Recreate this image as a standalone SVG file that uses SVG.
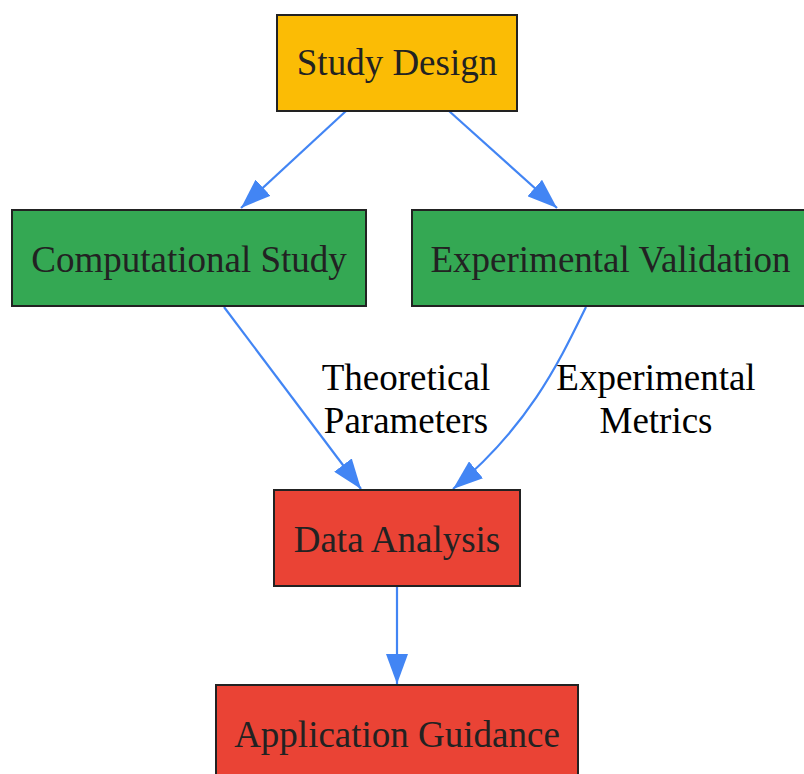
<svg xmlns="http://www.w3.org/2000/svg" width="804" height="774" viewBox="0 0 804 774">
<style>
.node rect{stroke:#222;stroke-width:2}
.node text{font-family:"Liberation Serif","Times New Roman",serif;font-size:37px;fill:#222;text-anchor:middle}
.edge{fill:none;stroke:#4285F4;stroke-width:2.2}
.lbl{font-family:"Liberation Serif","Times New Roman",serif;font-size:37px;fill:#000;text-anchor:middle}
</style>
<defs>
<marker id="arr" markerUnits="userSpaceOnUse" markerWidth="30" markerHeight="22" refX="30" refY="11" orient="auto">
<path d="M0,0 L30,11 L0,22 z" fill="#4285F4"/>
</marker>
</defs>
<rect width="804" height="774" fill="#fff"/>
<g id="connectors">
<path class="edge" d="M346,111 L241,208" marker-end="url(#arr)"/>
<path class="edge" d="M449,111 L557,208" marker-end="url(#arr)"/>
<path class="edge" d="M224,307 L361,489" marker-end="url(#arr)"/>
<path class="edge" d="M586,307 C560,360 530,425 453,489" marker-end="url(#arr)"/>
<path class="edge" d="M397,587 L397,684" marker-end="url(#arr)"/>
<text class="lbl" x="406" y="390">Theoretical</text>
<text class="lbl" x="406" y="433">Parameters</text>
<text class="lbl" x="656" y="390">Experimental</text>
<text class="lbl" x="656" y="433">Metrics</text>
</g>
<g id="study-design" class="node">
<rect x="277" y="15" width="240" height="96" fill="#FBBC05"/>
<text x="397" y="75">Study Design</text>
</g>
<g id="computational-study" class="node">
<rect x="12" y="210" width="354" height="96" fill="#34A853"/>
<text x="189" y="272">Computational Study</text>
</g>
<g id="experimental-validation" class="node">
<rect x="412" y="210" width="397" height="96" fill="#34A853"/>
<text x="610.5" y="272">Experimental Validation</text>
</g>
<g id="data-analysis" class="node">
<rect x="274" y="490" width="246" height="96" fill="#EA4335"/>
<text x="397" y="552">Data Analysis</text>
</g>
<g id="application-guidance" class="node">
<rect x="216" y="685" width="362" height="96" fill="#EA4335"/>
<text x="397" y="747">Application Guidance</text>
</g>
</svg>
